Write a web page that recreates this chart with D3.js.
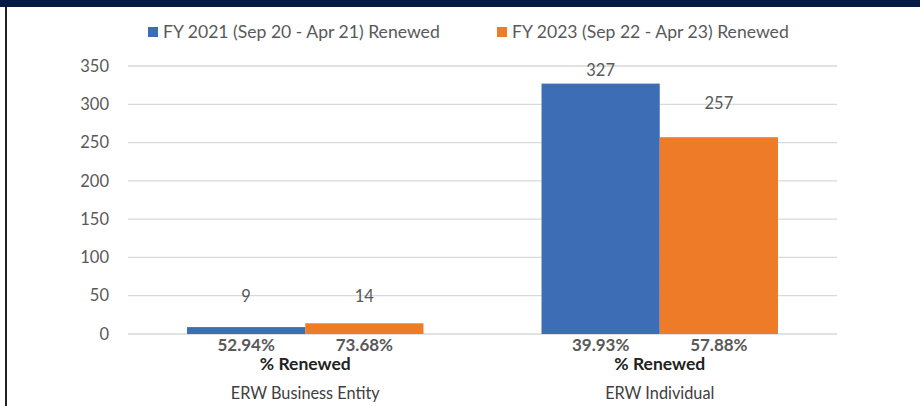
<!DOCTYPE html>
<html>
<head>
<meta charset="utf-8">
<script src="https://cdn.jsdelivr.net/npm/d3@7"></script>
<style>
  body { margin: 0; background: #fff; }
  svg { display: block; font-family: Lato, "Open Sans", sans-serif; }
</style>
</head>
<body>
<div id="chart"></div>
<script>
// chart data
var categories = ["ERW Business Entity", "ERW Individual"];
var seriesNames = ["FY 2021 (Sep 20 - Apr 21) Renewed", "FY 2023 (Sep 22 - Apr 23) Renewed"];
var fy2021 = [9, 327];
var fy2023 = [14, 257];
var pct2021 = ["52.94%", "39.93%"];
var pct2023 = ["73.68%", "57.88%"];
var yTicks = [0, 50, 100, 150, 200, 250, 300, 350];

var colors = ["#3c6db5", "#ed7b27"];
var width = 920, height = 406;
var margin = {left: 128, right: 83, top: 66, bottom: 72};

var svg = d3.select("#chart").append("svg")
    .attr("width", width)
    .attr("height", height);

// header band + left rule
svg.append("rect").attr("x", 0).attr("y", 0).attr("width", width).attr("height", 7).attr("fill", "#061a43");
svg.append("rect").attr("x", 5).attr("y", 7).attr("width", 2).attr("height", height - 7).attr("fill", "#222");

var x0 = d3.scaleBand()
    .domain(categories)
    .range([margin.left, width - margin.right])
    .paddingInner(0.333)
    .paddingOuter(0.1665);

var x1 = d3.scaleBand()
    .domain([0, 1])
    .range([0, x0.bandwidth()]);

var y = d3.scaleLinear()
    .domain([0, 350])
    .range([height - margin.bottom, margin.top]);

// gridlines
svg.append("g").selectAll("line")
    .data(yTicks)
  .enter().append("line")
    .attr("x1", margin.left)
    .attr("x2", width - margin.right)
    .attr("y1", function(d) { return y(d); })
    .attr("y2", function(d) { return y(d); })
    .attr("stroke", "#d9d9d9")
    .attr("stroke-width", 1.3);

// y axis labels
var yAxis = d3.axisLeft(y).tickValues(yTicks).tickSize(0).tickPadding(0);
var ga = svg.append("g")
    .attr("transform", "translate(109,0)")
    .call(yAxis);
ga.select(".domain").remove();
ga.selectAll("text")
    .attr("fill", "#595959")
    .style("font-size", "16.5px")
    .style("font-family", "Lato, sans-serif");

var series = [fy2021, fy2023];
var pcts = [pct2021, pct2023];
var rows = [];
categories.forEach(function(c, i) {
  series.forEach(function(s, j) {
    rows.push({cat: c, s: j, value: s[i], pct: pcts[j][i], idx: i});
  });
});

// bars
svg.append("g").selectAll("rect")
    .data(rows)
  .enter().append("rect")
    .attr("x", function(d) { return x0(d.cat) + x1(d.s); })
    .attr("y", function(d) { return y(d.value); })
    .attr("width", x1.bandwidth())
    .attr("height", function(d) { return y(0) - y(d.value); })
    .attr("fill", function(d) { return colors[d.s]; });

// value labels (these were dragged in the original, so nudge each one)
var labelLift = [[31, 27], [13, 34]];
svg.append("g").selectAll("text")
    .data(rows)
  .enter().append("text")
    .attr("x", function(d) { return x0(d.cat) + x1(d.s) + x1.bandwidth() / 2; })
    .attr("y", function(d) { return y(d.value) - labelLift[d.idx][d.s]; })
    .attr("dy", "0.35em")
    .attr("text-anchor", "middle")
    .attr("fill", "#595959")
    .style("font-size", "16.5px")
    .text(function(d) { return d.value; });

// percent labels under bars
svg.append("g").selectAll("text")
    .data(rows)
  .enter().append("text")
    .attr("x", function(d) { return x0(d.cat) + x1(d.s) + x1.bandwidth() / 2; })
    .attr("y", y(0) + 11)
    .attr("dy", "0.35em")
    .attr("text-anchor", "middle")
    .attr("fill", "#595959")
    .style("font-size", "17px")
    .style("font-weight", "bold")
    .text(function(d) { return d.pct; });

// "% Renewed" + category names
var cats = svg.append("g").selectAll("g")
    .data(categories)
  .enter().append("g")
    .attr("transform", function(d) { return "translate(" + (x0(d) + x0.bandwidth() / 2) + ",0)"; });

cats.append("text")
    .attr("y", y(0) + 30)
    .attr("dy", "0.35em")
    .attr("text-anchor", "middle")
    .attr("fill", "#222")
    .style("font-size", "17.5px")
    .style("font-weight", "bold")
    .text("% Renewed");

cats.append("text")
    .attr("y", y(0) + 59)
    .attr("dy", "0.35em")
    .attr("text-anchor", "middle")
    .attr("fill", "#404040")
    .style("font-size", "16.3px")
    .text(function(d) { return d; });

// legend
var legendX = [148, 497];
var legend = svg.append("g").selectAll("g")
    .data(seriesNames)
  .enter().append("g")
    .attr("transform", function(d, i) { return "translate(" + legendX[i] + ",27)"; });

legend.append("rect")
    .attr("width", 10)
    .attr("height", 10)
    .attr("fill", function(d, i) { return colors[i]; });

legend.append("text")
    .attr("x", 15)
    .attr("y", 5)
    .attr("dy", "0.35em")
    .attr("fill", "#595959")
    .style("font-size", "17.6px")
    .text(function(d) { return d; });
</script>
</body>
</html>
